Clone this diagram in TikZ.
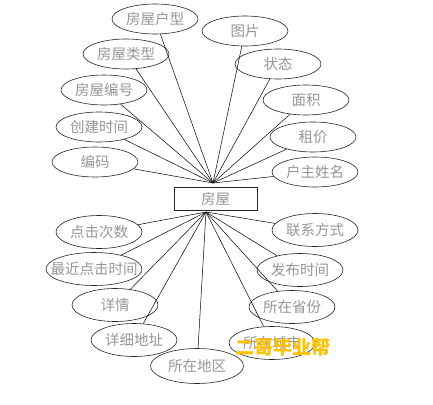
\documentclass[tikz,border=0pt]{standalone}
\usepackage{fontspec}
\usepackage{tikz}
\usetikzlibrary{shapes.geometric}
\newfontfamily\cjk{Noto Sans CJK SC}
\definecolor{attrgray}{RGB}{150,150,150}
\definecolor{markgold}{RGB}{255,192,0}

\begin{document}
\begin{tikzpicture}[x=1pt,y=-1pt,
  attr/.style={draw=black!85,ellipse,line width=0.6pt,minimum width=86pt,minimum height=30pt,inner xsep=-14pt,inner ysep=0pt,text=attrgray,font=\cjk\fontsize{14.5}{16}\selectfont},
  attrb/.style={attr,minimum height=33pt},
  entity/.style={draw=black!85,rectangle,line width=0.6pt,minimum width=83pt,minimum height=23pt,inner sep=0pt,text=attrgray,font=\cjk\fontsize{14.5}{16}\selectfont},
  link/.style={line width=0.5pt,black}]
\useasboundingbox (0,0) rectangle (433,404);
\node [entity] (house) at (215.5,198.5) {房屋};
\coordinate (hubtop) at (213,183);
\coordinate (hubbot) at (206,212);
% attributes above
\node [attr] (layout) at (155,19) {房屋户型};
\node [attr] (pic) at (245,31) {图片};
\node [attr] (kind) at (126,54) {房屋类型};
\node [attr] (state) at (278,64) {状态};
\node [attr] (hno) at (104,90) {房屋编号};
\node [attr] (area) at (306,100) {面积};
\node [attr] (ctime) at (99,127) {创建时间};
\node [attr] (rent) at (313,137) {租价};
\node [attr] (code) at (95,162) {编码};
\node [attr] (owner) at (315,172) {户主姓名};
% attributes below
\node [attrb] (clicks) at (99,232) {点击次数};
\node [attrb] (contact) at (315,230) {联系方式};
\node [attrb,minimum width=96pt] (lastclick) at (94,269) {最近点击时间};
\node [attrb] (pubtime) at (300,270) {发布时间};
\node [attrb] (detail) at (115,305) {详情};
\node [attrb] (prov) at (292,307) {所在省份};
\node [attrb] (addr) at (134,340) {详细地址};
\node [attrb] (city) at (272,343) {所在城市};
\node [attrb,minimum width=93pt,minimum height=35pt] (district) at (197,366) {所在地区};
% links
\draw [link] (hubtop) -- (layout);
\draw [link] (hubtop) -- (pic);
\draw [link] (hubtop) -- (kind);
\draw [link] (hubtop) -- (state);
\draw [link] (hubtop) -- (hno);
\draw [link] (hubtop) -- (area);
\draw [link] (hubtop) -- (ctime);
\draw [link] (hubtop) -- (rent);
\draw [link] (hubtop) -- (code);
\draw [link] (hubtop) -- (owner);
\draw [link] (hubbot) -- (clicks);
\draw [link] (hubbot) -- (contact);
\draw [link] (hubbot) -- (lastclick);
\draw [link] (hubbot) -- (pubtime);
\draw [link] (hubbot) -- (detail);
\draw [link] (hubbot) -- (prov);
\draw [link] (hubbot) -- (addr);
\draw [link] (hubbot) -- (city);
\draw [link] (hubbot) -- (district);
\node [font=\cjk\bfseries\fontsize{19}{22}\selectfont,text=markgold,inner sep=0pt] (mark) at (283,347) {二哥毕业帮};
\end{tikzpicture}
\end{document}
